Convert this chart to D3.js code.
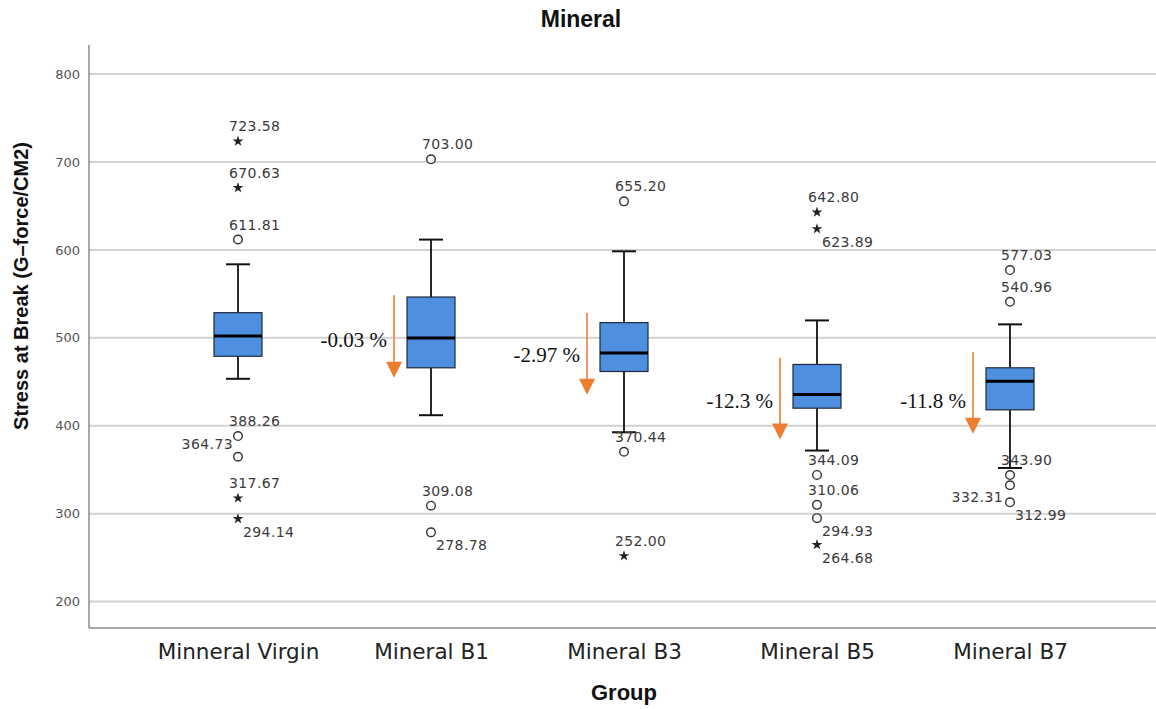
<!DOCTYPE html>
<html>
<head>
<meta charset="utf-8">
<script src="https://cdn.jsdelivr.net/npm/d3@7"></script>
<style>
  html, body { margin: 0; padding: 0; background: #fff; }
  svg { display: block; }
</style>
</head>
<body>
<svg id="chart" width="1156" height="709"></svg>
<script>
// ---------- data ----------
const groups = ["Minneral Virgin", "Mineral B1", "Mineral B3", "Mineral B5", "Mineral B7"];
const whiskerLow  = [453.4, 412.0, 392.6, 371.8, 352.0];
const q1          = [479.0, 465.9, 461.7, 420.0, 418.1];
const median      = [502.0, 499.7, 482.6, 435.5, 450.7];
const q3          = [528.6, 546.4, 517.3, 469.7, 465.9];
const whiskerHigh = [583.6, 611.7, 598.4, 519.8, 515.3];

// outliers: [group index, value, kind]  (kind: "o" = outlier circle, "*" = extreme star)
const outliers = [
  [0, 723.58, "*"], [0, 670.63, "*"], [0, 611.81, "o"], [0, 388.26, "o"], [0, 364.73, "o"], [0, 317.67, "*"], [0, 294.14, "*"],
  [1, 703.00, "o"], [1, 309.08, "o"], [1, 278.78, "o"],
  [2, 655.20, "o"], [2, 370.44, "o"], [2, 252.00, "*"],
  [3, 642.80, "*"], [3, 623.89, "*"], [3, 344.09, "o"], [3, 310.06, "o"], [3, 294.93, "o"], [3, 264.68, "*"],
  [4, 577.03, "o"], [4, 540.96, "o"], [4, 343.90, "o"], [4, 332.31, "o"], [4, 312.99, "o"]
];
// label placement around each outlier (same order as outliers)
const labelPlace = [
  "t","t","t","t","tl","t","br",
  "t","t","br",
  "t","t","t",
  "t","br","t","t","br","br",
  "t","t","t","bl","br"
];

// change annotations
const annGroup  = [1, 2, 3, 4];
const annText   = ["-0.03 %", "-2.97 %", "-12.3 %", "-11.8 %"];
const annFrom   = [548.3, 528.1, 477.3, 483.7];
const annTo     = [454.6, 435.2, 384.3, 390.8];
const annTextAt = [497.0, 480.0, 428.7, 428.7];

const yTicks = [200, 300, 400, 500, 600, 700, 800];

// ---------- layout ----------
const svg = d3.select("#chart");
const pLeft = 89, pRight = 1156, pTop = 45, pBottom = 628;

const x = d3.scalePoint().domain(groups).range([238, 1010]);
const y = d3.scaleLinear().domain([170, 833]).range([pBottom, pTop]);

const boxW = 48, capW = 24;

// gridlines
svg.append("g").selectAll("line").data(yTicks).join("line")
  .attr("x1", pLeft).attr("x2", pRight)
  .attr("y1", d => y(d)).attr("y2", d => y(d))
  .attr("stroke", "#d2d2d2").attr("stroke-width", 2);

// y axis
const yAxis = svg.append("g").attr("transform", `translate(${pLeft},0)`)
  .call(d3.axisLeft(y).tickValues(yTicks).tickSize(0).tickPadding(9).tickFormat(d3.format("d")));
yAxis.select(".domain").remove();
yAxis.selectAll("text")
  .attr("font-family", "DejaVu Sans, sans-serif").attr("font-size", 13).attr("fill", "#555");

// axis lines
svg.append("line").attr("x1", pLeft).attr("x2", pLeft).attr("y1", pTop).attr("y2", pBottom)
  .attr("stroke", "#8a8a8a").attr("stroke-width", 1.5);
svg.append("line").attr("x1", pLeft).attr("x2", pRight).attr("y1", pBottom).attr("y2", pBottom)
  .attr("stroke", "#8a8a8a").attr("stroke-width", 1.5);

// x axis labels
const xAxis = svg.append("g").attr("transform", `translate(0,${pBottom})`)
  .call(d3.axisBottom(x).tickSize(0).tickPadding(12));
xAxis.select(".domain").remove();
xAxis.selectAll("text")
  .attr("font-family", "DejaVu Sans, sans-serif").attr("font-size", 21.5).attr("fill", "#222")
  .attr("dy", "0.9em");

// titles
svg.append("text").attr("x", 581).attr("y", 27).attr("text-anchor", "middle")
  .attr("font-family", "Liberation Sans, Arial, sans-serif").attr("font-weight", "bold")
  .attr("font-size", 23).attr("fill", "#111").text("Mineral");
svg.append("text").attr("x", 624).attr("y", 700).attr("text-anchor", "middle")
  .attr("font-family", "Liberation Sans, Arial, sans-serif").attr("font-weight", "bold")
  .attr("font-size", 22).attr("fill", "#111").text("Group");
svg.append("text")
  .attr("transform", `translate(28,286) rotate(-90)`).attr("text-anchor", "middle")
  .attr("font-family", "Liberation Sans, Arial, sans-serif").attr("font-weight", "bold")
  .attr("font-size", 20).attr("fill", "#111").text("Stress at Break (G\u2013force/CM2)");

// boxes
const boxes = groups.map((g, i) => ({ g, lo: whiskerLow[i], q1: q1[i], med: median[i], q3: q3[i], hi: whiskerHigh[i] }));
const bg = svg.append("g").selectAll("g").data(boxes).join("g")
  .attr("transform", d => `translate(${x(d.g)},0)`);

bg.append("line").attr("x1", 0).attr("x2", 0).attr("y1", d => y(d.hi)).attr("y2", d => y(d.q3))
  .attr("stroke", "#111").attr("stroke-width", 1.8);
bg.append("line").attr("x1", 0).attr("x2", 0).attr("y1", d => y(d.q1)).attr("y2", d => y(d.lo))
  .attr("stroke", "#111").attr("stroke-width", 1.8);
bg.append("line").attr("x1", -capW / 2).attr("x2", capW / 2).attr("y1", d => y(d.hi)).attr("y2", d => y(d.hi))
  .attr("stroke", "#111").attr("stroke-width", 2);
bg.append("line").attr("x1", -capW / 2).attr("x2", capW / 2).attr("y1", d => y(d.lo)).attr("y2", d => y(d.lo))
  .attr("stroke", "#111").attr("stroke-width", 2);
bg.append("rect").attr("x", -boxW / 2).attr("width", boxW)
  .attr("y", d => y(d.q3)).attr("height", d => y(d.q1) - y(d.q3))
  .attr("fill", "#4f8fe0").attr("stroke", "#1e2a3a").attr("stroke-width", 1.2);
bg.append("line").attr("x1", -boxW / 2).attr("x2", boxW / 2).attr("y1", d => y(d.med)).attr("y2", d => y(d.med))
  .attr("stroke", "#000").attr("stroke-width", 3);

// outliers
const outs = outliers.map((o, i) => ({ gi: o[0], v: o[1], k: o[2], p: labelPlace[i] }));
const og = svg.append("g");
const star = d3.symbol().type(d3.symbolStar).size(36);
outs.forEach(o => {
  const px = x(groups[o.gi]), py = y(o.v);
  if (o.k === "o") {
    og.append("circle").attr("cx", px).attr("cy", py).attr("r", 4.3)
      .attr("fill", "#fff").attr("stroke", "#333").attr("stroke-width", 1.4);
  } else {
    og.append("path").attr("d", star).attr("transform", `translate(${px},${py})`).attr("fill", "#222");
  }
  let tx, ty, anchor = "start";
  if (o.p === "t") { tx = px - 9; ty = py - 10; }
  else if (o.p === "br") { tx = px + 5; ty = py + 18; }
  else if (o.p === "tl") { tx = px - 5; ty = py - 8; anchor = "end"; }
  else { tx = px - 7; ty = py + 17; anchor = "end"; }
  og.append("text").attr("x", tx).attr("y", ty).attr("text-anchor", anchor)
    .attr("font-family", "DejaVu Sans, sans-serif").attr("font-size", 14).attr("letter-spacing", 0.4)
    .attr("fill", "#3a3a3a").text(d3.format(".2f")(o.v));
});

// annotations (orange arrows)
const ag = svg.append("g");
const arrowOff = -37, headW = 16, headH = 16;
annGroup.forEach((gi, i) => {
  const ax = x(groups[gi]) + arrowOff;
  const y0 = y(annFrom[i]), y1 = y(annTo[i]);
  ag.append("line").attr("x1", ax).attr("x2", ax).attr("y1", y0).attr("y2", y1 - headH + 1)
    .attr("stroke", "#ed7d31").attr("stroke-width", 1.6);
  ag.append("path")
    .attr("d", `M${ax - headW / 2},${y1 - headH} L${ax + headW / 2},${y1 - headH} L${ax},${y1} Z`)
    .attr("fill", "#ed7d31");
  ag.append("text").attr("x", ax - 7).attr("y", y(annTextAt[i]) + 7).attr("text-anchor", "end")
    .attr("font-family", "Liberation Serif, Times New Roman, serif").attr("font-size", 21)
    .attr("fill", "#111").text(annText[i]);
});
</script>
</body>
</html>
